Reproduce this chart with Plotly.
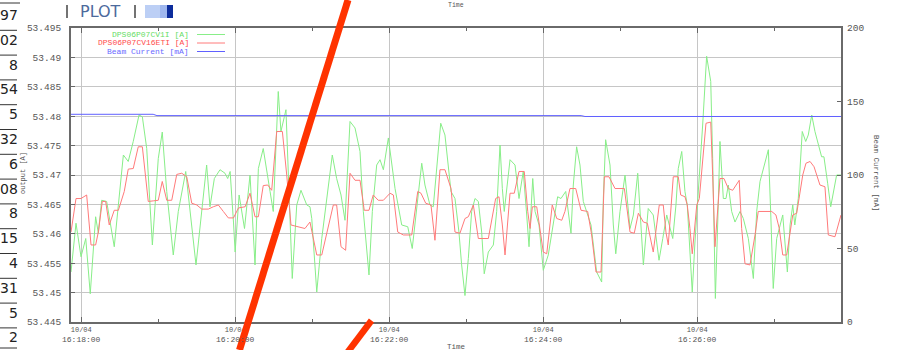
import pandas as pd
import plotly.graph_objects as go

# ---------------- data ----------------
base_time = "2007-10-04 16:17:52"
span_seconds = 600

# DPS06P07CV1I [A]  (seconds after base_time, value)
green_t = [0, 3.9, 7.8, 11.5, 15.0, 19.2, 21.3, 23.9, 27.8, 33.7,
           36.9, 40.8, 44.6, 48.5, 53.0, 55.6, 59.0, 63.4, 68.0, 71.1,
           74.6, 79.7, 83.6, 89.4, 97.4, 105.7, 108.3, 111.7, 116.1, 120.0,
           122.1, 124.0, 126.6, 127.9, 131.0, 135.2, 139.5, 143.4, 146.0, 149.8,
           155.1, 157.6, 161.5, 163.6, 167.5, 169.3, 172.4, 175.9, 179.2, 183.7,
           186.2, 187.6, 191.5, 195.4, 199.2, 203.6, 207.0, 210.4, 213.5, 215.6,
           217.4, 221.3, 225.2, 227.8, 229.9, 232.2, 234.8, 238.2, 240.8, 243.4,
           247.3, 249.9, 252.5, 257.7, 262.4, 265.9, 269.4, 273.3, 275.8, 279.7,
           282.3, 288.1, 291.4,
           296.1, 299.2, 302.3, 304.4, 307.0, 309.6, 312.2, 314.8, 317.4, 320.0,
           322.0, 325.2, 329.1, 331.7, 334.3, 336.1, 337.6, 342.1, 346.0, 349.1,
           352.4, 355.1, 356.9, 359.8, 361.6, 364.7, 368.0, 371.9, 375.8, 379.2,
           381.8, 385.5, 389.6, 391.4, 394.0, 396.6, 399.2, 401.8, 405.2, 409.6,
           413.5, 414.8, 416.6, 420.0, 422.6, 424.5, 427.8, 431.7, 435.6, 438.2,
           441.6, 446.0,
           449.8, 453.7, 455.8, 458.2, 461.1, 464.2, 466.2, 468.9, 471.4, 473.2,
           475.9, 478.4, 480.2, 482.3, 484.1, 486.2, 488.8, 492.2, 495.3, 498.5,
           500.0, 501.0, 502.1, 503.9, 505.7, 508.3, 510.4, 512.2, 514.8, 517.4,
           521.3, 523.9, 527.8, 531.7, 534.3, 536.9, 540.0, 543.4, 545.2, 547.2,
           549.9, 554.6, 558.2, 560.3, 562.4, 564.0, 566.7, 569.8, 572.5, 574.5,
           577.2, 579.7, 584.9, 586.7, 589.6, 592.0, 596.6, 600.0]
green_v = [53.4535, 53.4618, 53.4561, 53.4592, 53.4498, 53.4629, 53.4601, 53.4657, 53.4655, 53.4578,
           53.4649, 53.4734, 53.4723, 53.4757, 53.4802, 53.4799, 53.4745, 53.4581, 53.4728, 53.4773,
           53.4672, 53.4564, 53.4638, 53.4706, 53.4547, 53.4717, 53.4646, 53.4694, 53.4709, 53.4703,
           53.4694, 53.4706, 53.4620, 53.4569, 53.4666, 53.4609, 53.4700, 53.4547, 53.4711, 53.4745,
           53.4672, 53.4638, 53.4842, 53.4774, 53.4811, 53.4711, 53.4524, 53.4649, 53.4674, 53.4649,
           53.4646, 53.4626, 53.4501, 53.4592, 53.4660, 53.4734, 53.4694, 53.4666, 53.4623, 53.4717,
           53.4791, 53.4780, 53.4740, 53.4638, 53.4586, 53.4530, 53.4638, 53.4717, 53.4726, 53.4709,
           53.4763, 53.4717, 53.4677, 53.4615, 53.4612, 53.4575, 53.4649, 53.4720, 53.4683, 53.4649,
           53.4646, 53.4788, 53.4768,
           53.4672, 53.4660, 53.4603, 53.4547, 53.4495, 53.4558, 53.4638, 53.4660, 53.4655, 53.4603,
           53.4532, 53.4569, 53.4581, 53.4638, 53.4751, 53.4677, 53.4638, 53.4726, 53.4717, 53.4660,
           53.4706, 53.4632, 53.4578, 53.4694, 53.4638, 53.4615, 53.4538, 53.4564, 53.4615, 53.4663,
           53.4660, 53.4672, 53.4601, 53.4683, 53.4748, 53.4717, 53.4655, 53.4638, 53.4615, 53.4535,
           53.4518, 53.4660, 53.4760, 53.4717, 53.4615, 53.4566, 53.4638, 53.4700, 53.4609, 53.4632,
           53.4703, 53.4547,
           53.4643, 53.4632, 53.4592, 53.4555, 53.4592, 53.4632, 53.4615, 53.4592, 53.4649, 53.4711,
           53.4740, 53.4672, 53.4649, 53.4569, 53.4501, 53.4586, 53.4666, 53.4785, 53.4902, 53.4859,
           53.4728, 53.4592, 53.4490, 53.4615, 53.4757, 53.4660, 53.4660, 53.4683, 53.4638, 53.4620,
           53.4638, 53.4626, 53.4592, 53.4524, 53.4638, 53.4689, 53.4717, 53.4743, 53.4638, 53.4507,
           53.4592, 53.4632, 53.4535, 53.4615, 53.4649, 53.4615, 53.4660, 53.4774, 53.4757, 53.4768,
           53.4802, 53.4774, 53.4731, 53.4731, 53.4686, 53.4646, 53.4700, 53.4700]

# DPS06P07CV16ETI [A]
red_t = [0, 3.9, 7.8, 12.2, 15.6, 19.2, 21.3, 24.4, 27.0, 29.8,
         33.7, 36.9, 41.5, 44.6, 48.5, 52.4, 55.6, 60.2, 64.1, 68.0,
         71.1, 74.6, 78.5, 82.4, 86.3, 90.2, 94.1, 98.0, 101.9, 107.0,
         110.9, 114.8, 118.7, 122.6, 126.6, 130.5, 135.7, 139.5, 143.4, 146.0,
         149.8, 153.3, 156.4, 160.3, 164.7, 168.1, 171.4, 175.9, 182.3, 186.2,
         191.5, 195.4, 200.0, 204.4, 207.0, 210.4, 214.0, 217.4, 221.3, 225.2,
         228.5, 232.2, 235.5, 239.4, 243.4, 248.6, 251.2, 254.6, 259.0, 265.5,
         270.2, 272.7, 276.4, 280.5, 283.6, 287.5, 291.4, 296.1, 299.2, 303.1,
         307.0, 309.6, 313.5, 317.4, 325.2, 330.9, 333.5, 336.1, 338.2, 342.1,
         345.4, 349.1, 353.2, 355.9, 357.7, 359.5, 362.9, 368.0, 370.7, 375.0,
         378.5, 382.4, 384.9, 388.8, 393.3, 397.4, 402.6, 405.7, 409.1, 413.0,
         415.6, 419.2, 423.9, 431.2, 435.6, 438.9, 442.1, 446.0, 449.1, 451.7,
         453.7, 456.4, 458.4, 461.5, 463.6, 465.4, 467.3, 469.3, 473.2, 475.1,
         478.4, 480.2, 482.3, 484.1, 487.6, 489.6, 494.8, 498.5, 500.0, 501.8,
         505.7, 508.8, 512.2, 515.6, 520.7, 522.6, 525.2, 529.1, 533.0, 535.5,
         546.0, 549.3, 551.9, 554.6, 557.7, 560.3, 562.4, 565.5, 567.5, 570.2,
         572.7, 575.9, 579.0, 583.6, 587.5, 590.1, 595.3, 599.2, 600.0]
red_v = [53.4603, 53.4660, 53.4660, 53.4666, 53.4581, 53.4581, 53.4603, 53.4655, 53.4655, 53.4615,
         53.4640, 53.4640, 53.4672, 53.4710, 53.4711, 53.4748, 53.4748, 53.4655, 53.4656, 53.4657,
         53.4689, 53.4657, 53.4657, 53.4701, 53.4703, 53.4697, 53.4652, 53.4649, 53.4642, 53.4642,
         53.4646, 53.4649, 53.4638, 53.4627, 53.4627, 53.4644, 53.4646, 53.4669, 53.4629, 53.4629,
         53.4682, 53.4683, 53.4674, 53.4774, 53.4774, 53.4700, 53.4615, 53.4612, 53.4609, 53.4620,
         53.4564, 53.4564, 53.4609, 53.4649, 53.4649, 53.4578, 53.4572, 53.4703, 53.4691, 53.4691,
         53.4640, 53.4640, 53.4666, 53.4657, 53.4657, 53.4669, 53.4666, 53.4603, 53.4598, 53.4598,
         53.4672, 53.4669, 53.4652, 53.4649, 53.4589, 53.4709, 53.4709, 53.4677, 53.4603, 53.4601,
         53.4626, 53.4629, 53.4649, 53.4592, 53.4592, 53.4660, 53.4663, 53.4615, 53.4564, 53.4669,
         53.4669, 53.4706, 53.4706, 53.4638, 53.4609, 53.4646, 53.4646, 53.4569, 53.4566, 53.4649,
         53.4626, 53.4623, 53.4638, 53.4677, 53.4677, 53.4640, 53.4638, 53.4598, 53.4535, 53.4535,
         53.4697, 53.4697, 53.4677, 53.4677, 53.4603, 53.4601, 53.4635, 53.4620, 53.4618, 53.4592,
         53.4569, 53.4615, 53.4649, 53.4649, 53.4603, 53.4581, 53.4638, 53.4697, 53.4697, 53.4666,
         53.4663, 53.4649, 53.4609, 53.4566, 53.4649, 53.4660, 53.4788, 53.4790, 53.4700, 53.4578,
         53.4694, 53.4694, 53.4677, 53.4674, 53.4691, 53.4609, 53.4549, 53.4547, 53.4598, 53.4638,
         53.4638, 53.4632, 53.4609, 53.4564, 53.4564, 53.4603, 53.4632, 53.4635, 53.4660, 53.4700,
         53.4720, 53.4723, 53.4714, 53.4683, 53.4680, 53.4598, 53.4595, 53.4629, 53.4632]

# Beam Current [mA]
blue_t = [0, 64.0, 67.0, 397.5, 400.5, 600.0]
blue_v = [141.3, 141.3, 140.4, 140.4, 139.8, 139.8]

series_names = ["DPS06P07CV1I [A]", "DPS06P07CV16ETI [A]", "Beam Current [mA]"]

y_ticks = [53.445, 53.45, 53.455, 53.46, 53.465, 53.47, 53.475, 53.48, 53.485, 53.49, 53.495]
y_ticktext = ["53.445", "53.45", "53.455", "53.46", "53.465", "53.47", "53.475", "53.48", "53.485", "53.49", "53.495"]
y2_ticks = [0, 50, 100, 150, 200]
x_major = ["16:18:00", "16:20:00", "16:22:00", "16:24:00", "16:26:00"]
x_minor = ["16:19:00", "16:21:00", "16:23:00", "16:25:00", "16:27:00"]
x_date_label = "10/04"
day = "2007-10-04"

side_table = ["97", "02", "8", "54", "5", "32", "6", "08", "8", "15", "4", "31", "5", "2"]

# ---------------- build ----------------
t0 = pd.Timestamp(base_time)
gx = t0 + pd.to_timedelta(green_t, unit="s")
rx = t0 + pd.to_timedelta(red_t, unit="s")
bx = t0 + pd.to_timedelta(blue_t, unit="s")

GREEN = "#88ee88"
RED = "#ff7a7a"
BLUE = "#6060ff"
TXT = "#555555"
MONO = "Liberation Mono, DejaVu Sans Mono, monospace"

W, H = 899, 350
L, R, T, B = 71, 841, 28, 322


def PX(x):
    return (x - L) / (R - L)


def PY(y):
    return (B - y) / (B - T)


fig = go.Figure()
fig.add_trace(go.Scatter(x=gx, y=green_v, mode="lines", name=series_names[0],
                         line=dict(color=GREEN, width=1), showlegend=False))
fig.add_trace(go.Scatter(x=rx, y=red_v, mode="lines", name=series_names[1],
                         line=dict(color=RED, width=1), showlegend=False))
fig.add_trace(go.Scatter(x=bx, y=blue_v, mode="lines", name=series_names[2], yaxis="y2",
                         line=dict(color=BLUE, width=1), showlegend=False))

major_vals = [f"{day} {s}" for s in x_major]
minor_vals = [f"{day} {s}" for s in x_minor]
major_text = [x_date_label for s in x_major]

fig.update_layout(
    width=W, height=H,
    margin=dict(l=L, r=W - R, t=T, b=H - B, pad=0, autoexpand=False),
    paper_bgcolor="white", plot_bgcolor="white",
    showlegend=False,
    font=dict(family=MONO, size=9.5, color=TXT),
    xaxis=dict(
        type="date", automargin=False,
        range=[t0, t0 + pd.Timedelta(seconds=span_seconds)],
        tickmode="array", tickvals=major_vals, ticktext=major_text,
        ticks="inside", ticklen=5, tickcolor="#666", tickwidth=1,
        showgrid=True, gridcolor="#c6c6c6", gridwidth=1,
        showline=True, linecolor="#6a6a6a", linewidth=2, mirror="ticks",
        zeroline=False, ticklabelstandoff=0,
        tickfont=dict(family=MONO, size=7, color=TXT),
        minor=dict(tickmode="array", tickvals=minor_vals, ticks="inside",
                   ticklen=3, tickcolor="#666", showgrid=False),
    ),
    yaxis=dict(
        automargin=False,
        range=[y_ticks[0], y_ticks[-1]],
        tickmode="array", tickvals=y_ticks, ticktext=y_ticktext,
        ticks="inside", ticklen=4, tickcolor="#666",
        showgrid=True, gridcolor="#c6c6c6", gridwidth=1,
        showline=True, linecolor="#6a6a6a", linewidth=2, mirror=True,
        zeroline=False, ticklabelstandoff=6,
        tickfont=dict(family=MONO, size=9.5, color=TXT),
    ),
    yaxis2=dict(
        automargin=False,
        overlaying="y", side="right", range=[0, 200],
        tickmode="array", tickvals=y2_ticks,
        ticks="inside", ticklen=4, tickcolor="#666",
        showgrid=False, zeroline=False, showline=False,
        ticklabelstandoff=5,
        tickfont=dict(family=MONO, size=9.5, color=TXT),
    ),
)

ann = []
shapes = []

# second line of the time-axis labels (clock time under the date)
for v, s in zip(major_vals, x_major):
    ann.append(dict(text=s, xref="x", yref="paper", x=v, y=PY(339.5),
                    xanchor="center", yanchor="middle", showarrow=False,
                    font=dict(family=MONO, size=8, color=TXT)))

# legend (gnuplot style: right-aligned text, sample line to the right)
leg_colors_text = ["#66dd66", "#ff4c4c", "#6a6aff"]
leg_colors_line = [GREEN, RED, BLUE]
for i, name in enumerate(series_names):
    yy = 34.5 + i * 8.5
    ann.append(dict(text=name, xref="paper", yref="paper", x=PX(190), y=PY(yy),
                    xanchor="right", yanchor="middle", showarrow=False, borderpad=0,
                    font=dict(family=MONO, size=8, color=leg_colors_text[i])))
    shapes.append(dict(type="line", xref="paper", yref="paper",
                       x0=PX(197), x1=PX(225), y0=PY(yy), y1=PY(yy),
                       line=dict(color=leg_colors_line[i], width=1)))

# axis titles
ann.append(dict(text="output [A]", xref="paper", yref="paper", x=PX(23), y=PY(173),
                textangle=-90, showarrow=False, xanchor="center", yanchor="middle",
                font=dict(family=MONO, size=7, color=TXT)))
ann.append(dict(text="Beam Current [mA]", xref="paper", yref="paper", x=PX(876), y=PY(173),
                textangle=90, showarrow=False, xanchor="center", yanchor="middle",
                font=dict(family=MONO, size=7.5, color=TXT)))
ann.append(dict(text="Time", xref="paper", yref="paper", x=PX(456), y=PY(341),
                showarrow=False, xanchor="center", yanchor="top",
                font=dict(family=MONO, size=7.5, color=TXT)))
ann.append(dict(text="Time", xref="paper", yref="paper", x=PX(456), y=PY(-0.5),
                showarrow=False, xanchor="center", yanchor="top",
                font=dict(family=MONO, size=6.5, color=TXT)))

# page elements around the chart: cropped table on the left
for i, txt in enumerate(side_table):
    yy = 15 + i * 24.8
    ann.append(dict(text=txt, xref="paper", yref="paper", x=PX(19.5), y=PY(yy),
                    showarrow=False, xanchor="right", yanchor="middle",
                    font=dict(family="DejaVu Sans", size=14, color="#222222")))
    yl = 3 if i == 0 else yy - 9.5
    shapes.append(dict(type="line", xref="paper", yref="paper",
                       x0=PX(0), x1=PX(20 if i == 0 else 17), y0=PY(yl), y1=PY(yl),
                       line=dict(color="#333333", width=1)))
shapes.append(dict(type="line", xref="paper", yref="paper",
                   x0=PX(0), x1=PX(17), y0=PY(348), y1=PY(348),
                   line=dict(color="#333333", width=1)))

# PLOT button and blue bar at top
ann.append(dict(text="PLOT", xref="paper", yref="paper", x=PX(100), y=PY(12),
                showarrow=False, xanchor="center", yanchor="middle",
                font=dict(family="DejaVu Sans", size=16, color="#4c6a9c")))
for xx in (67, 135):
    shapes.append(dict(type="line", xref="paper", yref="paper",
                       x0=PX(xx), x1=PX(xx), y0=PY(5), y1=PY(18),
                       line=dict(color="#444444", width=1.5)))
shapes.append(dict(type="rect", xref="paper", yref="paper",
                   x0=PX(145), x1=PX(167), y0=PY(18), y1=PY(5),
                   fillcolor="#bccff5", line=dict(width=0)))
shapes.append(dict(type="rect", xref="paper", yref="paper",
                   x0=PX(160), x1=PX(167), y0=PY(18), y1=PY(5),
                   fillcolor="#9fb7ee", line=dict(width=0)))
shapes.append(dict(type="rect", xref="paper", yref="paper",
                   x0=PX(167), x1=PX(173), y0=PY(18), y1=PY(5),
                   fillcolor="#0c2c9c", line=dict(width=0)))

# hand-drawn red strokes over the picture
shapes.append(dict(type="line", xref="paper", yref="paper",
                   x0=PX(348), y0=PY(0), x1=PX(239.5), y1=PY(350),
                   line=dict(color="#ff3300", width=7), layer="above"))
shapes.append(dict(type="line", xref="paper", yref="paper",
                   x0=PX(371.5), y0=PY(320.5), x1=PX(347), y1=PY(353),
                   line=dict(color="#ff3300", width=6.5), layer="above"))

fig.update_layout(annotations=ann, shapes=shapes)
fig.write_html("out.html")
